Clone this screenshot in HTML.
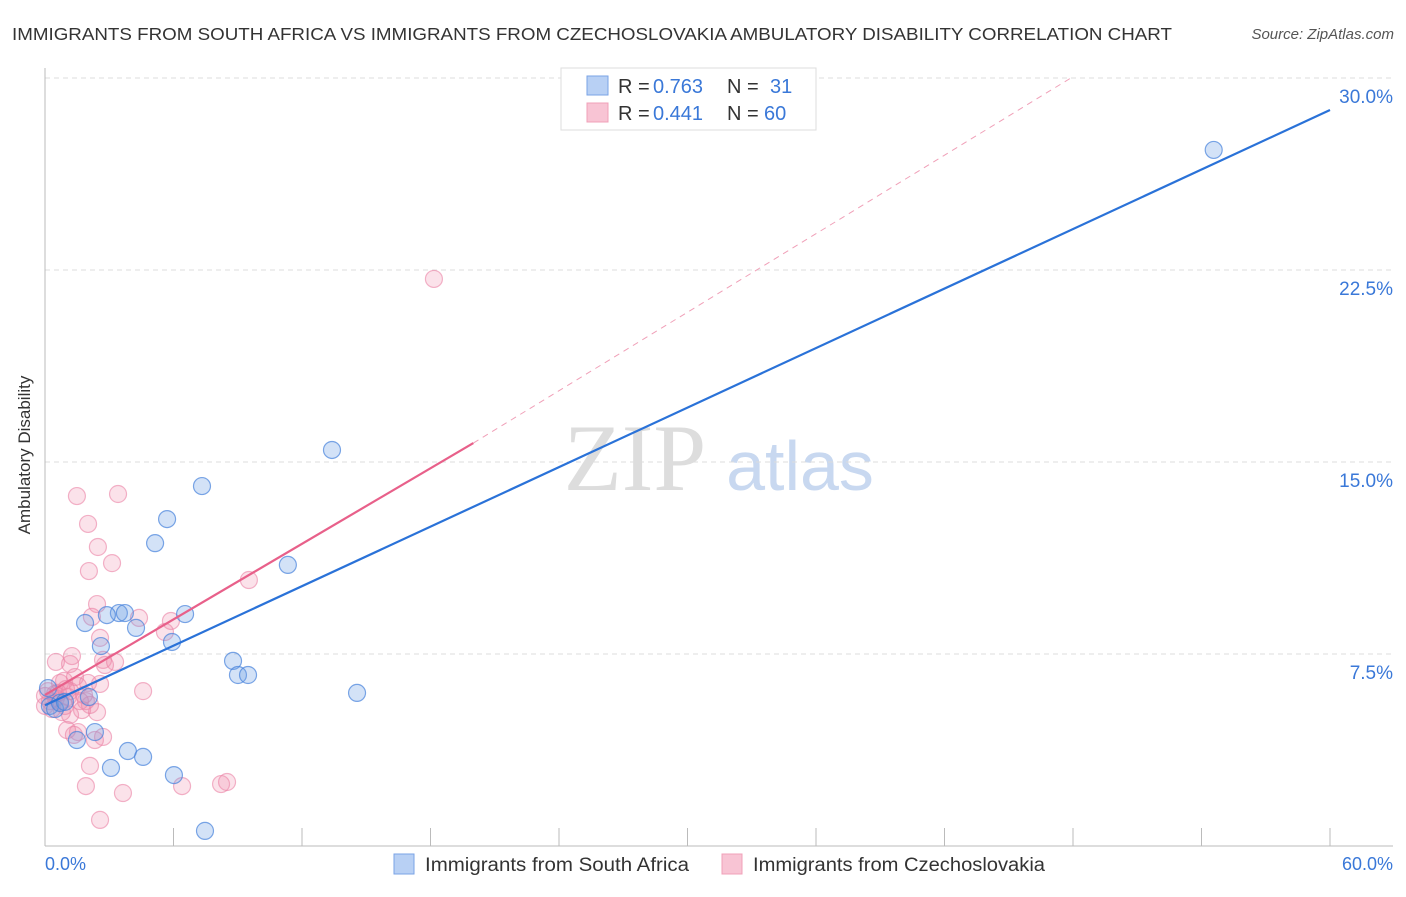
<!DOCTYPE html>
<html><head><meta charset="utf-8"><style>
body{margin:0;background:#fff;font-family:"Liberation Sans",sans-serif;}
svg text{font-family:"Liberation Sans",sans-serif;}
</style></head><body>
<svg width="1406" height="892" xmlns="http://www.w3.org/2000/svg">
<text x="12" y="40" font-size="17.5" fill="#333" textLength="1160" lengthAdjust="spacingAndGlyphs">IMMIGRANTS FROM SOUTH AFRICA VS IMMIGRANTS FROM CZECHOSLOVAKIA AMBULATORY DISABILITY CORRELATION CHART</text>
<text x="1394" y="39" font-size="15" fill="#555" font-style="italic" text-anchor="end">Source: ZipAtlas.com</text>
<text x="635" y="490" font-size="95" fill="#ddd" text-anchor="middle" style="font-family:'Liberation Serif',serif">ZIP</text>
<text x="800" y="490" font-size="70" fill="#c8d8f0" text-anchor="middle">atlas</text>
<g id="grid"></g>
<line x1="45" y1="68" x2="45" y2="846" stroke="#bbb"/>
<line x1="45" y1="846" x2="1393" y2="846" stroke="#bbb"/>
<g id="ticks"></g>
<text x="30" y="455" font-size="17" fill="#333" text-anchor="middle" transform="rotate(-90 30 455)">Ambulatory Disability</text>
<text x="45" y="870" font-size="18" fill="#3a78d8">0.0%</text>
<text x="1393" y="870" font-size="18" fill="#3a78d8" text-anchor="end">60.0%</text>
<g id="pts"></g>
<g id="lines"></g>
<g>
<rect x="561" y="68" width="255" height="62" fill="#fff" stroke="#ddd"/>
<rect x="587" y="76" width="21" height="19" fill="#b8d0f4" stroke="#7aa3e6"/>
<rect x="587" y="103" width="21" height="19" fill="#f8c4d4" stroke="#f0a0b8"/>
<text x="618" y="93" font-size="20" fill="#333">R =</text>
<text x="653" y="93" font-size="20" fill="#3a78d8">0.763</text>
<text x="727" y="93" font-size="20" fill="#333">N =</text>
<text x="770" y="93" font-size="20" fill="#3a78d8">31</text>
<text x="618" y="120" font-size="20" fill="#333">R =</text>
<text x="653" y="120" font-size="20" fill="#3a78d8">0.441</text>
<text x="727" y="120" font-size="20" fill="#333">N =</text>
<text x="764" y="120" font-size="20" fill="#3a78d8">60</text>
</g>
<g>
<rect x="394" y="854" width="20" height="20" fill="#b8d0f4" stroke="#7aa3e6"/>
<text x="425" y="871" font-size="19" fill="#333" textLength="264" lengthAdjust="spacingAndGlyphs">Immigrants from South Africa</text>
<rect x="722" y="854" width="20" height="20" fill="#f8c4d4" stroke="#f0a0b8"/>
<text x="753" y="871" font-size="19" fill="#333" textLength="292" lengthAdjust="spacingAndGlyphs">Immigrants from Czechoslovakia</text>
</g>
</svg>
<script>
const yTicks=[7.5,15,22.5,30];
const yTickLabels=["7.5%","15.0%","22.5%","30.0%"];
const xTicks=[0,6,12,18,24,30,36,42,48,54,60];
const blueX=[54.57,13.40,7.33,5.70,5.14,11.34,3.45,3.73,2.89,6.54,1.87,4.25,5.93,2.61,8.78,9.01,9.48,14.57,2.05,0.23,0.47,0.70,2.33,1.49,3.87,4.58,3.08,6.02,7.47,0.14,0.93];
const blueY=[27.19,15.47,14.06,12.77,11.83,10.98,9.10,9.10,9.02,9.06,8.71,8.52,7.97,7.81,7.23,6.68,6.68,5.98,5.82,5.47,5.35,5.59,4.45,4.14,3.71,3.48,3.05,2.77,0.59,6.17,5.63];
const pinkX=[18.16,1.49,3.41,2.01,2.47,3.13,2.05,9.52,2.43,2.19,4.39,5.88,5.60,2.57,0.51,1.17,2.71,3.27,2.80,1.26,1.40,0.70,0.89,2.01,1.54,2.57,0.14,0.47,4.58,1.91,0.23,0.51,1.07,1.73,2.43,1.17,0.79,0,0.33,0.93,2.10,1.54,1.03,1.35,2.71,2.33,2.10,1.91,3.64,6.40,8.22,8.50,2.57,0.61,1.17,1.82,0,0.70,0.98,1.63];
const pinkY=[22.15,13.67,13.75,12.58,11.68,11.05,10.74,10.39,9.45,8.95,8.91,8.79,8.36,8.13,7.19,7.11,7.27,7.19,7.07,7.42,6.60,6.37,6.45,6.37,6.25,6.33,6.05,5.94,6.05,5.66,5.66,5.78,5.82,5.31,5.23,5.12,5.23,5.47,5.35,5.47,5.51,4.45,4.53,4.34,4.26,4.14,3.13,2.34,2.07,2.34,2.42,2.50,1.02,5.98,6.05,5.90,5.86,5.66,6.13,5.66];
const blueLine=[[0,5.5],[60,28.75]];
const pinkLine=[[0,5.9],[20,15.74]];
const pinkDash=[[20,15.74],[47.9,30]];
const NS="http://www.w3.org/2000/svg";
const sx=v=>45+v*(1285/60);
const sy=v=>846-v*25.6;
function mk(t,a,p){const e=document.createElementNS(NS,t);for(const k in a)e.setAttribute(k,a[k]);p.appendChild(e);return e;}
const grid=document.getElementById('grid');
yTicks.forEach((t,i)=>{
 const l=mk('line',{x1:45,x2:1393,y1:sy(t),y2:sy(t),stroke:'#ddd','stroke-dasharray':'5,4'},grid);
 
 
 const tx=mk('text',{x:1393,y:sy(t)+25,'font-size':19,fill:'#3a78d8','text-anchor':'end'},grid);
 tx.textContent=yTickLabels[i];
 
 
});
const tk=document.getElementById('ticks');
xTicks.forEach(t=>{
 const l=mk('line',{x1:sx(t),x2:sx(t),y1:828,y2:846,stroke:'#bbb'},tk);
 
 
});
const pts=document.getElementById('pts');
pinkX.forEach((x,i)=>{
 const c=mk('circle',{cx:sx(x),cy:sy(pinkY[i]),r:8.5,fill:'rgba(240,140,170,0.25)',stroke:'rgba(235,130,165,0.6)','stroke-width':1.2},pts);
 
 
});
blueX.forEach((x,i)=>{
 const c=mk('circle',{cx:sx(x),cy:sy(blueY[i]),r:8.5,fill:'rgba(110,160,230,0.3)',stroke:'rgba(70,130,220,0.7)','stroke-width':1.2},pts);
 
 
});
const lg=document.getElementById('lines');
const pd=mk('line',{x1:sx(pinkDash[0][0]),y1:sy(pinkDash[0][1]),x2:sx(pinkDash[1][0]),y2:sy(pinkDash[1][1]),stroke:'#f0a0b8','stroke-dasharray':'6,5','stroke-width':1},lg);


const pl=mk('line',{x1:sx(pinkLine[0][0]),y1:sy(pinkLine[0][1]),x2:sx(pinkLine[1][0]),y2:sy(pinkLine[1][1]),stroke:'#e8608a','stroke-width':2.2},lg);


const bl=mk('line',{x1:sx(blueLine[0][0]),y1:sy(blueLine[0][1]),x2:sx(blueLine[1][0]),y2:sy(blueLine[1][1]),stroke:'#2a72d8','stroke-width':2.2},lg);


</script>
</body></html>
